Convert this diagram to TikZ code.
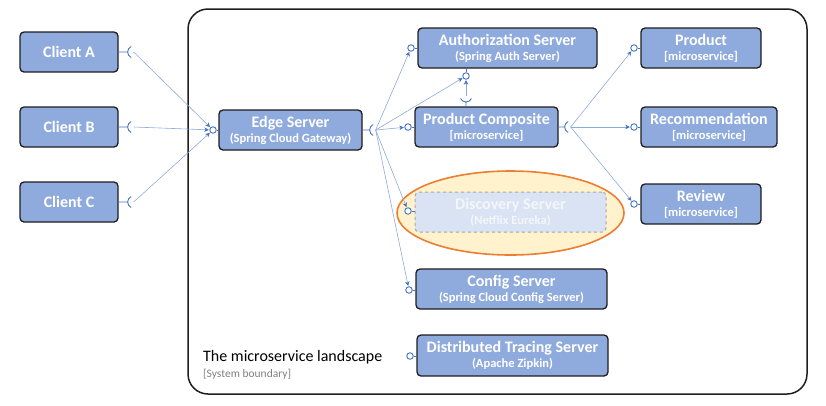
\documentclass[tikz,border=0pt]{standalone}
\usepackage{fontspec}
\setmainfont{Carlito}
\usetikzlibrary{positioning, arrows.meta, shapes, calc}

\definecolor{boxblue}{HTML}{8FAADC}
\definecolor{boxline}{HTML}{1E1E1E}
\definecolor{linkblue}{HTML}{8EA9DB}
\definecolor{lolblue}{HTML}{4472C4}
\definecolor{fadefill}{HTML}{DAE3F3}
\definecolor{fadeline}{HTML}{A6A6A6}
\definecolor{fadetext}{HTML}{F4F6FA}
\definecolor{ringorange}{HTML}{ED7D31}
\definecolor{ringfill}{HTML}{FFF2CC}

\newcommand{\svcname}[2]{{\fontsize{16}{18}\selectfont #1}\\[3pt]{\fontsize{12.5}{16}\selectfont #2}}

\begin{document}
\begin{tikzpicture}[x=1pt, y=-1pt,
    svc/.style={rectangle, draw=boxline, line width=1.3pt, rounded corners=4pt, fill=boxblue, text=white, font=\bfseries, align=center, minimum height=40pt, inner sep=0pt},
    faded/.style={svc, draw=fadeline, dashed, line width=1pt, fill=fadefill, text=fadetext},
    lolli/.style={circle, draw=lolblue, fill=white, line width=0.9pt, inner sep=0pt, minimum size=6.5pt},
    stem/.style={draw=lolblue, line width=0.9pt},
    link/.style={-{Stealth[length=4.5pt, width=4.5pt, color=lolblue]}, draw=linkblue, line width=0.6pt, shorten >=0.5pt},
    boundary/.style={rectangle, draw=boxline, line width=1.5pt, rounded corners=20pt, inner sep=0pt}
]
    \useasboundingbox (0,0) rectangle (826,405);

    \node[boundary, minimum width=619pt, minimum height=385pt] (landscape) at (497.5,201.5) {};
    \node[ellipse, draw=ringorange, line width=1.6pt, fill=ringfill, minimum width=227pt, minimum height=84pt] (ring) at (510.5,213) {};

    % clients
    \node[svc, minimum width=98pt] (clientA) at (69,52) {\fontsize{16}{18}\selectfont Client A};
    \node[svc, minimum width=98pt] (clientB) at (69,127) {\fontsize{16}{18}\selectfont Client B};
    \node[svc, minimum width=98pt] (clientC) at (69,202) {\fontsize{16}{18}\selectfont Client C};

    % services
    \node[svc, minimum width=143pt] (edge) at (290.5,130) {\svcname{Edge Server}{(Spring Cloud Gateway)}};
    \node[svc, minimum width=179pt] (auth) at (507.5,48) {\svcname{Authorization Server}{(Spring Auth Server)}};
    \node[svc, minimum width=143pt] (composite) at (486.5,127) {\svcname{Product Composite}{[microservice]}};
    \node[svc, minimum width=120pt] (product) at (701,48) {\svcname{Product}{[microservice]}};
    \node[svc, minimum width=136pt] (recommendation) at (709,127) {\svcname{Recommendation}{[microservice]}};
    \node[svc, minimum width=120pt] (review) at (701,204) {\svcname{Review}{[microservice]}};
    \node[faded, minimum width=191pt] (discovery) at (510.5,212) {\svcname{Discovery Server}{(Netflix Eureka)}};
    \node[svc, minimum width=191pt] (config) at (511.5,289) {\svcname{Config Server}{(Spring Cloud Config Server)}};
    \node[svc, minimum width=191pt, minimum height=41pt] (tracing) at (512.5,355.5) {\svcname{Distributed Tracing Server}{(Apache Zipkin)}};

    \node[anchor=base west, inner sep=0pt, font=\fontsize{16}{18}\selectfont] (title) at (203,361) {The microservice landscape};
    \node[anchor=base west, inner sep=0pt, font=\fontsize{11.5}{13}\selectfont, text=black!50] (sysb) at (203,377) {[System boundary]};

    % provided interfaces
    \node[lolli] (edgeIn) at (213,130) {};
    \node[lolli] (authIn) at (411,48) {};
    \node[lolli] (authBot) at (466,76) {};
    \node[lolli] (compIn) at (408,127) {};
    \node[lolli] (discIn) at (408,211) {};
    \node[lolli] (confIn) at (409,290) {};
    \node[lolli] (traceIn) at (410,356) {};
    \node[lolli] (prodIn) at (634,48) {};
    \node[lolli] (recIn) at (634,127) {};
    \node[lolli] (revIn) at (634,204) {};
    \foreach \p/\b in {edgeIn/edge, authIn/auth, compIn/composite, discIn/discovery, confIn/config, traceIn/tracing}
        \draw[stem] (\p) -- (\p -| \b.west);
    \foreach \p/\b in {prodIn/product, recIn/recommendation, revIn/review}
        \draw[stem] (\p) -- (\p -| \b.west);
    \draw[stem] (authBot) -- (authBot |- auth.south);

    % required interfaces
    \coordinate (sockA) at ($(clientA.east)+(15,0)$);
    \coordinate (sockB) at ($(clientB.east)+(15,0)$);
    \coordinate (sockC) at ($(clientC.east)+(15,0)$);
    \coordinate (edgeOut) at ($(edge.east)+(13,0)$);
    \coordinate (compOut) at ($(composite.east)+(12,0)$);
    \coordinate (compUp) at (466,96);
    \foreach \b in {clientA, clientB, clientC}
        \draw[stem] (\b.east) -- ++(9,0) coordinate (s) arc[start angle=180, end angle=115, radius=6pt] (s) arc[start angle=180, end angle=245, radius=6pt];
    \draw[stem] (edge.east) -- ++(7,0) coordinate (s) arc[start angle=180, end angle=115, radius=6pt] (s) arc[start angle=180, end angle=245, radius=6pt];
    \draw[stem] (composite.east) -- ++(6,0) coordinate (s) arc[start angle=180, end angle=115, radius=6pt] (s) arc[start angle=180, end angle=245, radius=6pt];
    \draw[stem] (compUp |- composite.north) -- (466,102) coordinate (s) arc[start angle=270, end angle=335, radius=6pt] (s) arc[start angle=270, end angle=205, radius=6pt];

    % links
    \foreach \s in {sockA, sockB, sockC}
        \draw[link] (\s) -- (edgeIn);
    \foreach \t in {authIn, authBot, compIn, discIn, confIn}
        \draw[link] (edgeOut) -- (\t);
    \draw[link] (compUp) -- (authBot);
    \foreach \t in {prodIn, recIn, revIn}
        \draw[link] (compOut) -- (\t);
\end{tikzpicture}
\end{document}
